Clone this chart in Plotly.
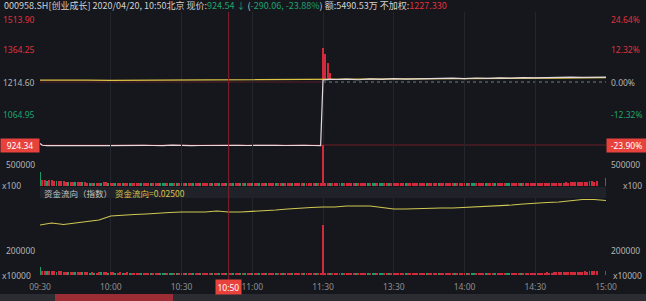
import plotly.graph_objects as go

W, H = 646, 301
ML, MR = 40, 40
PW = W - ML - MR
BG = "#15171d"
RED = "#e0303c"
BAR_RED = "#d02a3c"
GREEN = "#1fa36e"
BAR_GREEN = "#1c9a68"
YELLOW = "#dcc344"
FLOW = "#cfc752"
WHITE_LINE = "#e4dade"
GRAY = "#b4b4b4"
XT = "#8e8e8e"

def px2x(px):
    return (px - ML) / PW

def py2y(py):
    return 1 - py / H

# ---------------- data ----------------
tick_minutes = [0, 30, 60, 90, 120, 150, 180, 210, 240]
tick_labels = ["09:30", "10:00", "10:30", "11:00", "11:30", "13:30", "14:00", "14:30", "15:00"]

base_price = 1214.60
price_ticks_left = [1513.90, 1364.25, 1214.60, 1064.95]
price_ticks_left_colors = [RED, RED, GRAY, GREEN]
pct_ticks_right = ["24.64%", "12.32%", "0.00%", "-12.32%"]

cursor_minute = 80
cursor_label = "10:50"
cursor_price = 924.34
cursor_pct = "-23.90%"

price_t = [0, 1, 3, 6, 9, 12, 16, 20, 24, 28, 32, 36, 40, 44, 48, 52, 56, 60, 64, 68,
           72, 76, 80, 84, 88, 92, 96, 100, 104, 108, 112, 116, 119,
           120, 123, 126, 130, 135, 140, 145, 150, 155, 160, 165, 170, 175, 180, 185,
           190, 195, 200, 205, 210, 215, 220, 225, 230, 235, 236, 240]
price_v = [931, 923, 921, 922, 920, 922, 921, 923, 922, 921, 922, 920, 921, 923, 922, 921,
           924, 922, 921, 922, 923, 922, 924.5, 923, 922, 923, 924, 923, 922, 924, 923, 922, 921,
           1224, 1227, 1226, 1228, 1225, 1229, 1227, 1230, 1228, 1229, 1231, 1229, 1232, 1230,
           1233, 1231, 1234, 1232, 1235, 1234, 1236, 1235, 1237, 1236, 1238, 1236, 1237]

avg_t = [0, 10, 20, 30, 40, 50, 60, 70, 80, 90, 100, 110, 120, 130, 140, 150, 160, 170,
         180, 190, 200, 210, 220, 230, 240]
avg_v = [1223, 1224, 1223, 1222.5, 1223, 1223.5, 1223, 1223.5, 1224, 1224, 1224.5, 1224,
         1225, 1226, 1226.5, 1227, 1228, 1228.5, 1229, 1230, 1231, 1232, 1233, 1234, 1235]

# red spike bars in price panel right after 13:00
spike_t = [120, 121, 122, 123]
spike_top = [1372, 1345, 1302, 1258]
spike_base = 1224

# volume (x100), signed: positive = red (up), negative = green (down)
vol_signed = [
    -330000,
    140000, 150000, -130000, 145000, 150000, 125000, -115000, 130000, 125000, 110000,
    100000, -95000, 100000, 90000, -85000, 90000, 95000, -90000, 85000, 80000,
    -75000, 80000, -75000, 70000, 75000, -80000, 85000, 90000, -75000, 80000,
    80000, -70000, 75000, 80000, -70000, 70000, 80000, -65000, 75000, 70000,
    75000, 70000, -65000, 75000, 70000, 70000, -60000, 65000, 75000, 70000,
    -65000, -70000, -65000, 60000, -65000, -70000, 65000, -60000, 65000, 70000,
    65000, -60000, 70000, 65000, -65000, 60000, 65000, -70000, 60000, 65000,
    60000, 65000, -60000, 65000, 70000, -65000, 60000, 65000, -60000, 65000,
    65000, -60000, 60000, 65000, -65000, 60000, -65000, 60000, 65000, -60000,
    60000, 65000, -60000, 65000, 60000, -65000, 60000, 65000, 60000, -60000,
    65000, 60000, -65000, 60000, 65000, 60000, -60000, 65000, 60000, 65000,
    60000, -65000, 60000, 65000, 60000, 65000, -60000, 65000, 70000, 980000,
    70000, 65000, -60000, 65000, 60000, 65000, 70000, -60000, 65000, 60000,
    65000, 60000, 65000, -60000, 65000, 60000, 65000, 60000, -60000, 65000,
    -65000, -60000, 65000, -65000, -60000, 65000, 60000, -65000, 65000, 60000,
    65000, 60000, 65000, 60000, -60000, 65000, 60000, 65000, 60000, 65000,
    60000, 65000, 60000, -65000, 60000, 65000, 60000, 65000, -60000, 65000,
    60000, 65000, 60000, 65000, 60000, -65000, 60000, 65000, 60000, 65000,
    -65000, 60000, -65000, -60000, 65000, 60000, 65000, 60000, -65000, 65000,
    60000, 65000, -60000, 60000, 65000, 60000, 65000, -65000, -60000, 65000,
    60000, 65000, 60000, -65000, 65000, 60000, 65000, 60000, 65000, 70000,
    65000, 70000, 65000, 70000, 75000, 70000, 65000, 75000, 70000, 75000,
    80000, 75000, 85000, 80000, 90000, 85000, 95000, 90000, 100000, 95000,
    105000, 100000, 110000, 115000, 105000, 120000, 0, 0, 0, 190000,
]
vol_ticks = [500000]

# fund-flow panel bars (x10000), signed
flow_bars_signed = [
    -64000,
    34000, 36000, -32000, 34000, 36000, 30000, -28000, 32000, 30000, 28000,
    26000, -24000, 26000, 24000, -22000, 24000, 26000, -24000, 22000, 22000,
    -20000, 22000, -20000, 20000, 22000, -22000, 24000, 24000, -20000, 22000,
    22000, -20000, 20000, 22000, -20000, 20000, 22000, -18000, 20000, 20000,
    20000, 20000, -18000, 20000, 20000, 20000, -18000, 18000, 20000, 20000,
    -18000, -20000, -18000, 18000, -18000, -20000, 18000, -18000, 18000, 20000,
    18000, -18000, 20000, 18000, -18000, 18000, 18000, -20000, 18000, 18000,
    18000, 18000, -18000, 18000, 20000, -18000, 18000, 18000, -18000, 18000,
    18000, -18000, 18000, 18000, -18000, 18000, -18000, 18000, 18000, -18000,
    18000, 18000, -18000, 18000, 18000, -18000, 18000, 18000, 18000, -18000,
    18000, 18000, -18000, 18000, 18000, 18000, -18000, 18000, 18000, 18000,
    18000, -18000, 18000, 18000, 18000, 18000, -18000, 18000, 20000, 400000,
    20000, 18000, -18000, 18000, 18000, 18000, 20000, -18000, 18000, 18000,
    18000, 18000, 18000, -18000, 18000, 18000, 18000, 18000, -18000, 18000,
    -18000, -18000, 18000, -18000, -18000, 18000, 18000, -18000, 18000, 18000,
    18000, 18000, 18000, 18000, -18000, 18000, 18000, 18000, 18000, 18000,
    18000, 18000, 18000, -18000, 18000, 18000, 18000, 18000, -18000, 18000,
    18000, 18000, 18000, 18000, 18000, -18000, 18000, 18000, 18000, 18000,
    -18000, 18000, -18000, -18000, 18000, 18000, 18000, 18000, -18000, 18000,
    18000, 18000, -18000, 18000, 18000, 18000, 18000, -18000, -18000, 18000,
    18000, 18000, 18000, -18000, 18000, 18000, 18000, 18000, 18000, 20000,
    20000, 20000, 20000, 20000, 22000, 20000, 20000, 22000, 22000, 22000,
    24000, 22000, 24000, 24000, 26000, 24000, 26000, 26000, 28000, 28000,
    30000, 28000, 30000, 32000, 30000, 32000, 0, 0, 0, 36000,
]
flow_ticks = [200000]

flow_t = [0, 5, 10, 15, 20, 25, 30, 35, 40, 45, 50, 55, 60, 65, 70, 75, 80, 85, 90, 95,
          100, 105, 110, 115, 120, 125, 130, 135, 140, 145, 150, 155, 160, 165, 170, 175,
          180, 185, 190, 195, 200, 205, 210, 215, 220, 225, 230, 235, 240]
flow_v = [400000, 416000, 404000, 416000, 424000, 440000, 472000, 480000, 484000, 488000,
          496000, 500000, 504000, 504000, 504000, 512000, 504000, 504000, 508000, 512000,
          520000, 528000, 536000, 540000, 544000, 544000, 552000, 552000, 552000, 540000,
          528000, 528000, 532000, 536000, 536000, 536000, 540000, 544000, 548000, 552000,
          560000, 568000, 576000, 580000, 584000, 596000, 604000, 604000, 596000]

minutes = list(range(len(vol_signed)))

# ---------------- figure ----------------
fig = go.Figure()

# price panel
fig.add_trace(go.Bar(x=spike_t, y=[t - spike_base for t in spike_top], base=spike_base,
                     marker=dict(color=BAR_RED, line=dict(width=0)), width=0.4,
                     xaxis="x", yaxis="y"))
fig.add_trace(go.Scatter(x=avg_t, y=avg_v, mode="lines", line=dict(color=YELLOW, width=1.3),
                         xaxis="x", yaxis="y"))
fig.add_trace(go.Scatter(x=price_t, y=price_v, mode="lines", line=dict(color=WHITE_LINE, width=1.2),
                         xaxis="x", yaxis="y"))

# volume panel
fig.add_trace(go.Bar(x=minutes, y=[abs(v) for v in vol_signed],
                     marker=dict(color=[BAR_RED if v >= 0 else BAR_GREEN for v in vol_signed], line=dict(width=0)),
                     width=0.42, xaxis="x", yaxis="y2"))

# fund-flow panel
fig.add_trace(go.Bar(x=minutes, y=[abs(v) for v in flow_bars_signed],
                     marker=dict(color=[BAR_RED if v >= 0 else BAR_GREEN for v in flow_bars_signed], line=dict(width=0)),
                     width=0.42, xaxis="x", yaxis="y3"))
fig.add_trace(go.Scatter(x=flow_t, y=flow_v, mode="lines", line=dict(color=FLOW, width=1.1),
                         xaxis="x", yaxis="y3"))

FONT = "Noto Sans, Noto Sans CJK SC, sans-serif"
CJK = "Noto Sans CJK SC, Noto Sans, sans-serif"

ann = []
shapes = []

# background decorations
shapes.append(dict(type="rect", xref="paper", yref="paper", x0=0, x1=1,
                   y0=py2y(198), y1=py2y(187), fillcolor="#1f2229", line=dict(width=0), layer="below"))
shapes.append(dict(type="rect", xref="paper", yref="paper", x0=px2x(0), x1=px2x(W),
                   y0=py2y(301), y1=py2y(294), fillcolor="#2b2d33", line=dict(width=0), layer="below"))
shapes.append(dict(type="rect", xref="paper", yref="paper", x0=px2x(55), x1=px2x(173),
                   y0=py2y(301), y1=py2y(294), fillcolor="#9c2d35", line=dict(width=0), layer="below"))
# reference (zero-change) line
shapes.append(dict(type="line", xref="x", yref="y", x0=0, x1=120, y0=base_price, y1=base_price,
                   line=dict(color="#5a1d26", width=1), layer="below"))
shapes.append(dict(type="line", xref="x", yref="y", x0=120, x1=240, y0=base_price, y1=base_price,
                   line=dict(color="#6d8088", width=1, dash="dot"), layer="below"))
# crosshair
shapes.append(dict(type="line", xref="x", yref="paper", x0=cursor_minute, x1=cursor_minute,
                   y0=py2y(282), y1=py2y(12), line=dict(color="#8a1e2c", width=1)))
shapes.append(dict(type="line", xref="paper", yref="y", x0=0, x1=1, y0=cursor_price, y1=cursor_price,
                   line=dict(color="#6e1c27", width=1), layer="below"))

# header
header = ("000958.SH[创业成长] 2020/04/20, 10:50北京 现价:"
          f"<span style='color:{GREEN}'>924.54 ↓</span> "
          f"(<span style='color:{GREEN}'>-290.06, -23.88%</span>) "
          "额:5490.53万 不加权:"
          f"<span style='color:{RED}'>1227.330</span>")
ann.append(dict(text=header, xref="paper", yref="paper", x=px2x(2), y=py2y(5.5),
                xanchor="left", yanchor="middle", showarrow=False,
                font=dict(family=CJK, size=9, color="#d2d2d2")))

# left price labels & right pct labels
for i, (val, col, pct) in enumerate(zip(price_ticks_left, price_ticks_left_colors, pct_ticks_right)):
    shift = -2 if i == 0 else 0
    ann.append(dict(text=f"{val:.2f}", xref="paper", yref="y", x=px2x(37), y=val, yshift=shift,
                    xanchor="right", yanchor="middle", showarrow=False,
                    font=dict(family=FONT, size=8.5, color=col)))
    ann.append(dict(text=pct, xref="paper", yref="y", x=px2x(609), y=val, yshift=shift,
                    xanchor="left", yanchor="middle", showarrow=False,
                    font=dict(family=FONT, size=8.5, color=col)))

ann.append(dict(text=f"{cursor_price:.2f}", xref="paper", yref="y", x=px2x(0), y=cursor_price,
                xanchor="left", yanchor="middle", showarrow=False, bgcolor="#e8423c",
                width=36, height=11, borderpad=1, align="center",
                font=dict(family=FONT, size=8.5, color="#ffffff")))
ann.append(dict(text=cursor_pct, xref="paper", yref="y", x=px2x(606), y=cursor_price,
                xanchor="left", yanchor="middle", showarrow=False, bgcolor="#e8423c",
                width=37, height=11, borderpad=1, align="center",
                font=dict(family=FONT, size=8.5, color="#ffffff")))

# volume labels
for v in vol_ticks:
    ann.append(dict(text=str(v), xref="paper", yref="y2", x=px2x(37), y=v, xanchor="right",
                    yanchor="middle", showarrow=False, font=dict(family=FONT, size=8.5, color=GRAY)))
    ann.append(dict(text=str(v), xref="paper", yref="y2", x=px2x(609), y=v, xanchor="left",
                    yanchor="middle", showarrow=False, font=dict(family=FONT, size=8.5, color=GRAY)))
ann.append(dict(text="x100", xref="paper", yref="y2", x=px2x(0), y=0, xanchor="left", yanchor="middle",
                showarrow=False, font=dict(family=FONT, size=8.5, color=GRAY)))
ann.append(dict(text="x100", xref="paper", yref="y2", x=px2x(644), y=0, xanchor="right", yanchor="middle",
                showarrow=False, font=dict(family=FONT, size=8.5, color=GRAY)))

# flow labels
for v in flow_ticks:
    ann.append(dict(text=str(v), xref="paper", yref="y3", x=px2x(37), y=v, xanchor="right",
                    yanchor="middle", showarrow=False, font=dict(family=FONT, size=8.5, color=GRAY)))
    ann.append(dict(text=str(v), xref="paper", yref="y3", x=px2x(609), y=v, xanchor="left",
                    yanchor="middle", showarrow=False, font=dict(family=FONT, size=8.5, color=GRAY)))
ann.append(dict(text="x10000", xref="paper", yref="y3", x=px2x(0), y=0, xanchor="left", yanchor="middle",
                showarrow=False, font=dict(family=FONT, size=8.5, color=GRAY)))
ann.append(dict(text="x10000", xref="paper", yref="y3", x=px2x(644), y=0, xanchor="right", yanchor="middle",
                showarrow=False, font=dict(family=FONT, size=8.5, color=GRAY)))

# band title
ann.append(dict(text="资金流向（指数）", xref="paper", yref="paper", x=px2x(42), y=py2y(193),
                xanchor="left", yanchor="middle", showarrow=False,
                font=dict(family=CJK, size=8.5, color="#c4c4c4")))
ann.append(dict(text="资金流向=0.02500", xref="paper", yref="paper", x=px2x(113), y=py2y(193),
                xanchor="left", yanchor="middle", showarrow=False,
                font=dict(family=CJK, size=8.5, color=YELLOW)))

# cursor time label
ann.append(dict(text=cursor_label, xref="x", yref="paper", x=cursor_minute, y=py2y(287),
                xanchor="center", yanchor="middle", showarrow=False, bgcolor="#e8423c",
                borderpad=1.5, font=dict(family=FONT, size=8.5, color="#ffffff")))

fig.update_layout(
    width=W, height=H,
    margin=dict(l=ML, r=MR, t=0, b=0),
    paper_bgcolor=BG, plot_bgcolor="rgba(0,0,0,0)",
    showlegend=False, bargap=0,
    xaxis=dict(domain=[0, 1], range=[0, 240], anchor="y3", tickmode="array",
               tickvals=tick_minutes, ticktext=tick_labels, showgrid=True,
               gridcolor="#23262d", gridwidth=1, zeroline=False, showline=False,
               ticks="", tickfont=dict(family=FONT, size=8.5, color=XT), ticklabelstandoff=4),
    yaxis=dict(domain=[py2y(150), py2y(12)], range=[901.3, 1537.1], showgrid=False,
               zeroline=False, showticklabels=False, anchor="x"),
    yaxis2=dict(domain=[py2y(186), py2y(140)], range=[0, 1095238], showgrid=False,
                zeroline=False, showticklabels=False, anchor="x"),
    yaxis3=dict(domain=[py2y(276), py2y(198)], range=[-8000, 616000], showgrid=False,
                zeroline=False, showticklabels=False, anchor="x"),
    annotations=ann, shapes=shapes,
)

fig.write_html("out.html")
